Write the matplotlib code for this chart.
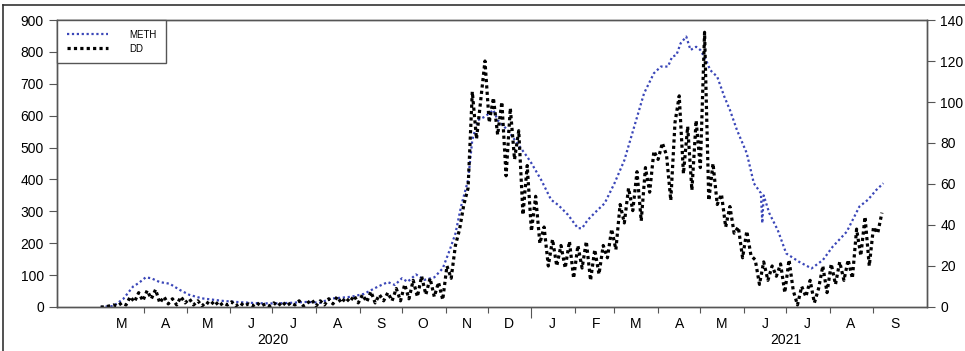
import matplotlib
matplotlib.use("Agg")
import matplotlib.pyplot as plt
import matplotlib.dates as mdates
from matplotlib.lines import Line2D
import numpy as np
import pandas as pd

plt.rcParams["font.family"] = ["Liberation Sans", "DejaVu Sans"]

# METH, left axis (smooth series)
meth_dates = [
    "2020-03-01", "2020-03-10", "2020-03-17", "2020-03-24", "2020-03-28",
    "2020-04-02", "2020-04-06", "2020-04-12", "2020-04-19", "2020-04-26",
    "2020-05-03", "2020-05-12", "2020-05-27", "2020-06-08", "2020-06-20",
    "2020-07-02", "2020-07-14", "2020-07-26", "2020-08-04", "2020-08-11",
    "2020-08-26", "2020-09-04", "2020-09-14", "2020-09-21", "2020-09-26",
    "2020-10-01", "2020-10-05", "2020-10-11", "2020-10-17", "2020-10-24",
    "2020-10-30", "2020-11-04", "2020-11-08", "2020-11-12", "2020-11-17",
    "2020-11-20", "2020-11-24", "2020-11-29", "2020-12-05", "2020-12-08",
    "2020-12-15", "2020-12-22", "2020-12-29", "2021-01-01", "2021-01-08",
    "2021-01-15", "2021-01-20", "2021-01-27", "2021-02-03", "2021-02-06",
    "2021-02-10", "2021-02-17", "2021-02-22", "2021-03-01", "2021-03-08",
    "2021-03-15", "2021-03-22", "2021-03-29", "2021-04-03", "2021-04-08",
    "2021-04-11", "2021-04-14", "2021-04-17", "2021-04-21", "2021-04-24",
    "2021-04-28", "2021-05-01", "2021-05-05", "2021-05-08", "2021-05-13",
    "2021-05-18", "2021-05-22", "2021-05-27", "2021-06-03", "2021-06-08",
    "2021-06-13", "2021-06-14", "2021-06-15", "2021-06-19", "2021-06-25",
    "2021-07-01", "2021-07-10", "2021-07-19", "2021-07-27", "2021-08-03",
    "2021-08-13", "2021-08-22", "2021-08-28", "2021-09-03", "2021-09-08",
]
meth_values = [
    0, 3, 25, 64, 75,
    93, 90, 78, 73, 54,
    38, 27, 19, 15, 12,
    11, 13, 16, 13, 26,
    32, 41, 64, 78, 69,
    90, 79, 102, 85, 93,
    121, 179, 230, 315, 398,
    524, 586, 597, 618, 586,
    555, 513, 471, 451, 398,
    336, 320, 289, 247, 247,
    273, 304, 325, 388, 460,
    565, 670, 733, 754, 754,
    785, 790, 827, 848, 806,
    816, 806, 775, 743, 722,
    660, 618, 555, 482, 388,
    357, 263, 350, 294, 241,
    168, 142, 121, 147, 189,
    236, 315, 336, 367, 388,
]

# DD, right axis, one value every 3 days from 2020-03-01
dd_start = "2020-03-01"
dd_values = [
    0, 0, 0.5, 1, 0.5, 2, 1, 5, 2.5, 7,          # from 2020-03-01
    3, 8, 4, 8.5, 2, 5, 1.5, 4, 1, 5,             # 2020-03-31
    2, 4, 1, 3, 0.5, 2.5, 1, 3, 0.5, 2,           # 2020-04-30
    1, 2.5, 0.5, 2, 0.5, 1.5, 0.5, 2, 0.5, 1.5,   # 2020-05-30
    0.5, 2, 0.5, 2.5, 0.5, 2, 1, 3, 0.5, 2,       # 2020-06-29
    3.5, 0.5, 3, 1, 4, 1.5, 5, 2, 4.5, 2.5,       # 2020-07-29
    5.5, 2, 6, 2.5, 7.5, 2, 6, 3, 7, 3,           # 2020-08-28
    9, 3, 11, 4, 13, 5, 15, 6, 14, 5,             # 2020-09-27
    12, 3.5, 20, 14, 30, 38, 50, 58, 105, 82,     # 2020-10-27
    101, 120, 90, 102, 84, 100, 64, 97, 72, 86,   # 2020-11-26
    45, 69, 37, 54, 31, 39, 20, 33, 20, 30,       # 2020-12-26
    19, 32, 14, 30, 19, 32, 13, 28, 16, 30,       # 2021-01-25
    24, 38, 28, 50, 41, 58, 47, 66, 42, 68,       # 2021-02-24
    56, 76, 72, 80, 74, 52, 90, 103, 65, 88,      # 2021-03-26
    57, 91, 68, 134, 52, 70, 50, 55, 39, 49,      # 2021-04-25
    36, 39, 24, 37, 25, 23, 11, 22, 13, 20,       # 2021-05-25
    15, 21, 7, 23, 8, 1, 10, 5, 13, 2,            # 2021-06-24
    9, 20, 7, 21, 11, 22, 13, 23, 14, 38,         # 2021-07-24
    25, 44, 20, 39, 36, 46,                       # 2021-08-23
]

month_labels = ["M", "A", "M", "J", "J", "A", "S", "O", "N", "D",
                "J", "F", "M", "A", "M", "J", "J", "A", "S"]
year_labels = ["2020", "2021"]


def main():
    meth_x = pd.to_datetime(meth_dates)
    dd_x = pd.date_range(dd_start, periods=len(dd_values), freq="3D")

    fig = plt.figure(figsize=(9.65, 3.51), dpi=100)
    ax = fig.add_axes([0.0591, 0.1254, 0.9015, 0.8176])
    ax2 = ax.twinx()

    ax.plot(meth_x, meth_values, color="#3a46b8", lw=1.6,
            ls=(0, (1, 1.2)), label="METH")
    ax2.plot(dd_x, dd_values, color="black", lw=2.3,
             ls=(0, (1, 1)), label="DD")

    ax.set_ylim(0, 900)
    ax.set_yticks(np.arange(0, 901, 100))
    ax2.set_ylim(0, 140)
    ax2.set_yticks(np.arange(0, 141, 20))
    ax.set_xlim(pd.Timestamp("2020-01-30"), pd.Timestamp("2021-10-09"))

    # ticks at month boundaries, letters at mid-month
    bounds = pd.date_range("2020-04-01", "2021-09-01", freq="MS")
    mids = pd.date_range("2020-03-01", "2021-09-01", freq="MS") + pd.Timedelta(days=15)
    ax.set_xticks(bounds)
    ax.set_xticklabels([])
    ax.set_xticks(mids, minor=True)
    ax.set_xticklabels(month_labels, minor=True)
    ax.tick_params(axis="x", which="major", length=4, color="#555555")
    ax.tick_params(axis="x", which="minor", length=0, pad=7, labelsize=10)
    for t, d in zip(ax.xaxis.get_major_ticks(), bounds):
        if d.month == 1:
            t.tick1line.set_markersize(8)

    for lab, d in zip(year_labels, ["2020-07-01", "2021-07-01"]):
        ax.text(mdates.date2num(pd.Timestamp(d)), -0.092, lab,
                transform=ax.get_xaxis_transform(), ha="center", va="top",
                fontsize=10)

    ax.tick_params(axis="y", length=6, color="#555555", labelsize=10)
    ax2.tick_params(axis="y", length=6, color="#555555", labelsize=10)
    for a in (ax, ax2):
        for s in a.spines.values():
            s.set_color("#555555")
            s.set_linewidth(1.0)

    handles = ax.get_lines() + ax2.get_lines()
    leg = ax2.legend(handles, [h.get_label() for h in handles],
                     loc="upper left", bbox_to_anchor=(0, 1),
                     borderaxespad=0, fancybox=False, fontsize=7,
                     handlelength=4.2, handletextpad=2.2,
                     labelspacing=0.4, borderpad=1.0, framealpha=1)
    leg.get_frame().set_edgecolor("#555555")
    leg.get_frame().set_linewidth(1.0)

    # outer frame of the source image (top and left edges only)
    fig.add_artist(Line2D([0.003, 1.0], [0.986, 0.986], color="#333333",
                          lw=1.2, transform=fig.transFigure))
    fig.add_artist(Line2D([0.003, 0.003], [0.0, 0.986], color="#333333",
                          lw=1.2, transform=fig.transFigure))

    fig.savefig("out.png", dpi=100)


if __name__ == "__main__":
    main()
